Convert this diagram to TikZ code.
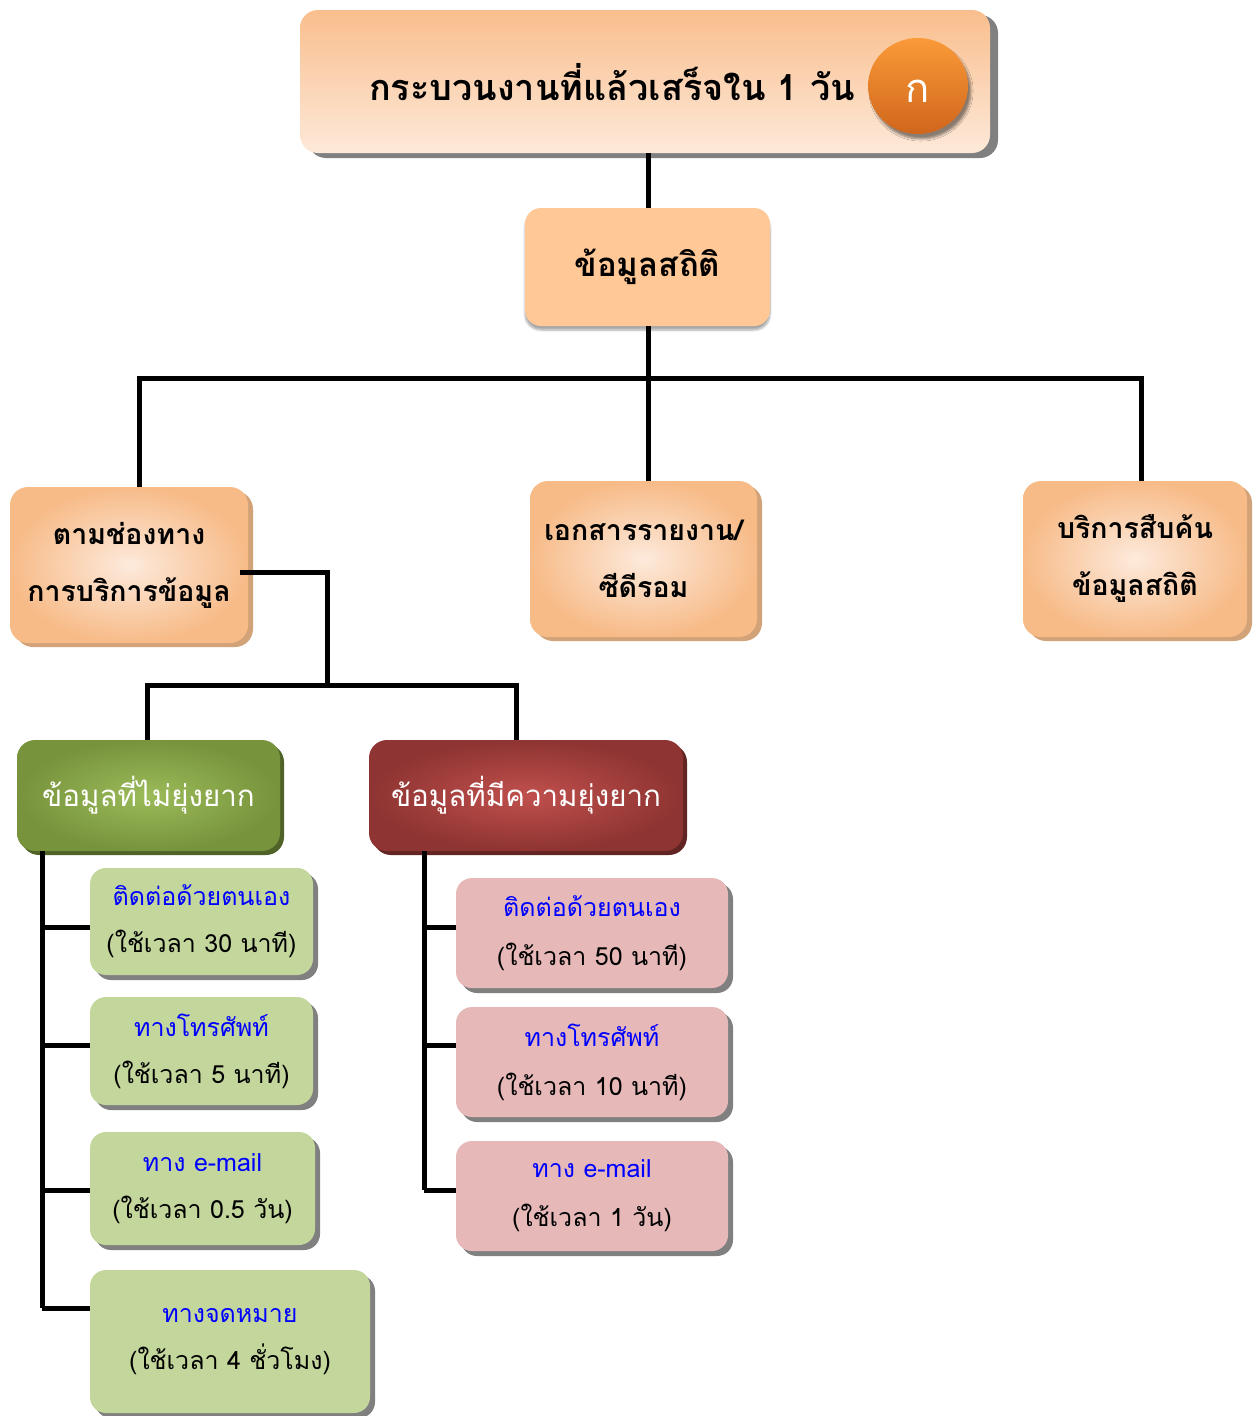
\documentclass[tikz,border=0pt]{standalone}
\usepackage{fontspec}
\setmainfont[Script=Thai]{Loma}
\usetikzlibrary{shapes.geometric,shadows,shadows.blur}

\definecolor{peachTop}{HTML}{F9BE8D}
\definecolor{peachBot}{HTML}{FDE9D9}
\definecolor{peachIn}{HTML}{FDEADC}
\definecolor{peachOut}{HTML}{F7BB88}
\definecolor{peachShadow}{HTML}{D2A278}
\definecolor{statFill}{HTML}{FFC896}
\definecolor{badgeTop}{HTML}{FA9A38}
\definecolor{badgeBot}{HTML}{D0661C}
\definecolor{oliveIn}{HTML}{9BBB59}
\definecolor{oliveOut}{HTML}{77933C}
\definecolor{oliveShadow}{HTML}{4F6228}
\definecolor{brickIn}{HTML}{C0504D}
\definecolor{brickOut}{HTML}{8E3432}
\definecolor{brickShadow}{HTML}{632523}
\definecolor{leafFill}{HTML}{C3D69B}
\definecolor{roseFill}{HTML}{E6B9B8}
\definecolor{linkBlue}{HTML}{0000FF}

\begin{document}
\begin{tikzpicture}[x=1pt,y=-1pt,
  link/.style={line width=5pt, black},
  basebox/.style={rectangle, rounded corners=18pt, inner sep=0pt, align=center, draw=none},
  titlebox/.style={basebox, top color=peachTop, bottom color=peachBot,
    general shadow={fill=black!50, shadow xshift=8pt, shadow yshift=-5pt}},
  peachbox/.style={basebox, inner color=peachIn, outer color=peachOut,
    general shadow={fill=peachShadow, shadow xshift=5pt, shadow yshift=-4pt},
    font=\fontsize{28.5}{57}\selectfont\bfseries},
  statbox/.style={basebox, fill=statFill, rounded corners=16pt,
    blur shadow={shadow xshift=0pt, shadow yshift=-4pt, shadow blur steps=6, shadow opacity=35},
    font=\fontsize{33}{38}\selectfont\bfseries},
  greenhead/.style={basebox, inner color=oliveIn, outer color=oliveOut, text=white,
    general shadow={fill=oliveShadow, shadow xshift=4pt, shadow yshift=-4pt},
    font=\fontsize{29.5}{34}\selectfont},
  redhead/.style={basebox, inner color=brickIn, outer color=brickOut, text=white,
    general shadow={fill=brickShadow, shadow xshift=4pt, shadow yshift=-4pt},
    font=\fontsize{29.5}{34}\selectfont},
  leafbox/.style={basebox, fill=leafFill, rounded corners=16pt,
    general shadow={fill=black!50, shadow xshift=5pt, shadow yshift=-5pt},
    font=\fontsize{25}{47}\selectfont},
  rosebox/.style={basebox, fill=roseFill, rounded corners=16pt,
    general shadow={fill=black!50, shadow xshift=5pt, shadow yshift=-5pt},
    font=\fontsize{25}{49}\selectfont},
]
\useasboundingbox (0,0) rectangle (1253,1416);

% header
\node[titlebox, minimum width=690pt, minimum height=143pt] (top) at (645,81.5) {};
\node[font=\fontsize{36}{40}\selectfont\bfseries, inner sep=0pt] (toptext) at (612,82) {กระบวนงานที่แล้วเสร็จใน 1 วัน};
\node[ellipse, minimum width=100pt, minimum height=96pt, inner sep=0pt,
  top color=badgeTop, bottom color=badgeBot, text=white,
  blur shadow={shadow xshift=3pt, shadow yshift=-5pt, shadow blur steps=6, shadow opacity=45},
  font=\fontsize{40}{44}\selectfont] (badge) at (918,86) {\raisebox{-16pt}[0pt][0pt]{ก}};

% second level
\node[statbox, minimum width=245pt, minimum height=118pt] (stat) at (647.5,267) {ข้อมูลสถิติ};

% third level
\node[peachbox, minimum width=238pt, minimum height=156pt] (chan) at (129,565) {ตามช่องทาง\\การบริการข้อมูล};
\node[peachbox, minimum width=227pt, minimum height=156pt] (doc) at (643.5,559) {เอกสารรายงาน/\\ซีดีรอม};
\node[peachbox, minimum width=224pt, minimum height=156pt] (srv) at (1135,559) {บริการสืบค้น\\ข้อมูลสถิติ};

% complexity groups
\node[greenhead, minimum width=263pt, minimum height=111pt] (easy) at (148.5,795.5) {ข้อมูลที่ไม่ยุ่งยาก};
\node[redhead, minimum width=314pt, minimum height=111pt] (hard) at (526,795.5) {ข้อมูลที่มีความยุ่งยาก};

% channels for simple requests
\node[leafbox, minimum width=223pt, minimum height=107pt] (g1) at (201.5,921.5) {\textcolor{linkBlue}{ติดต่อด้วยตนเอง}\\(ใช้เวลา 30 นาที)};
\node[leafbox, minimum width=223pt, minimum height=108pt] (g2) at (201.5,1051) {\textcolor{linkBlue}{ทางโทรศัพท์}\\(ใช้เวลา 5 นาที)};
\node[leafbox, minimum width=225pt, minimum height=113pt] (g3) at (202.5,1188.5) {\textcolor{linkBlue}{ทาง e-mail}\\(ใช้เวลา 0.5 วัน)};
\node[leafbox, minimum width=280pt, minimum height=143pt] (g4) at (230,1341.5) {\textcolor{linkBlue}{ทางจดหมาย}\\(ใช้เวลา 4 ชั่วโมง)};

% channels for complex requests
\node[rosebox, minimum width=272pt, minimum height=110pt] (r1) at (592,933) {\textcolor{linkBlue}{ติดต่อด้วยตนเอง}\\(ใช้เวลา 50 นาที)};
\node[rosebox, minimum width=272pt, minimum height=110pt] (r2) at (592,1062) {\textcolor{linkBlue}{ทางโทรศัพท์}\\(ใช้เวลา 10 นาที)};
\node[rosebox, minimum width=272pt, minimum height=110pt] (r3) at (592,1196) {\textcolor{linkBlue}{ทาง e-mail}\\(ใช้เวลา 1 วัน)};

% junction points
\coordinate (busL) at (139,378);
\coordinate (busM) at (648,378);
\coordinate (busR) at (1141,378);
\coordinate (chanOut) at (240,572);
\coordinate (elbow) at (327,572);
\coordinate (bus2L) at (147,685);
\coordinate (bus2M) at (327,685);
\coordinate (bus2R) at (516,685);
\coordinate (spL) at (42,851);
\coordinate (bl1) at (42,927);
\coordinate (bl2) at (42,1045);
\coordinate (bl3) at (42,1190);
\coordinate (bl4) at (42,1308);
\coordinate (spR) at (424,851);
\coordinate (br1) at (424,927);
\coordinate (br2) at (424,1045);
\coordinate (br3) at (424,1190);

% connectors
\draw[link] (busM |- top.south) -- (busM |- stat.north);
\draw[link] (busM |- stat.south) -- (busM);
\draw[link] (busL |- chan.north) -- (busL) -- (busR) -- (busR |- srv.north);
\draw[link] (busM) -- (busM |- doc.north);
\draw[link] (chanOut) -- (elbow) -- (bus2M);
\draw[link] (bus2L |- easy.north) -- (bus2L) -- (bus2R) -- (bus2R |- hard.north);
\draw[link] (spL) -- (bl4);
\draw[link] (bl1) -- (bl1 -| g1.west);
\draw[link] (bl2) -- (bl2 -| g2.west);
\draw[link] (bl3) -- (bl3 -| g3.west);
\draw[link] (bl4) -- (bl4 -| g4.west);
\draw[link] (spR) -- (br3);
\draw[link] (br1) -- (br1 -| r1.west);
\draw[link] (br2) -- (br2 -| r2.west);
\draw[link] (br3) -- (br3 -| r3.west);
\end{tikzpicture}
\end{document}
